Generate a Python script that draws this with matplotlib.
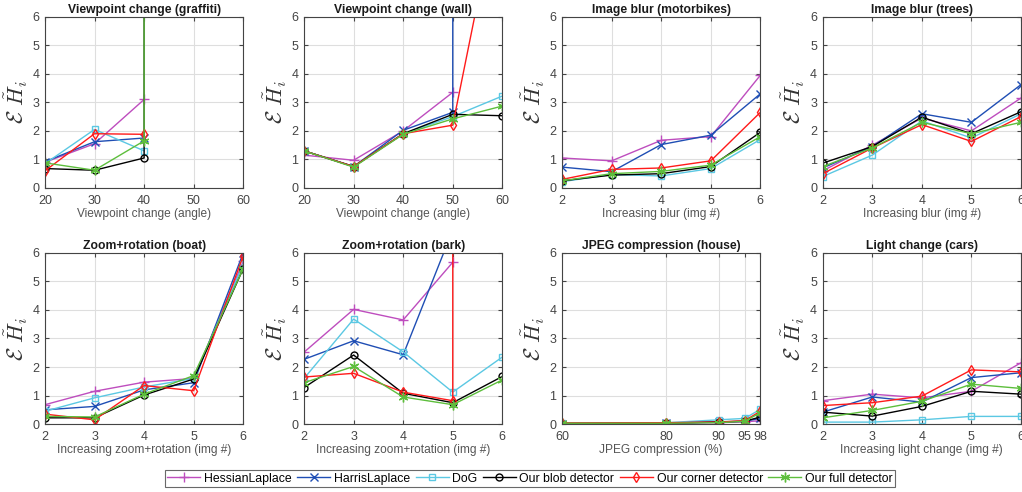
import numpy as np
import matplotlib
matplotlib.use("Agg")
import matplotlib.pyplot as plt

plt.rcParams['font.family'] = ['Liberation Sans', 'DejaVu Sans']
plt.rcParams['mathtext.fontset'] = 'cm'

NAN = np.nan
BIG = 1e4

methods = ["HessianLaplace", "HarrisLaplace", "DoG", "Our blob detector",
           "Our corner detector", "Our full detector"]
colors = ["#BE4DBE", "#1F4EB4", "#5BC8E3", "#000000", "#FF1A1A", "#5DBE3C"]
markers = ["+", "x", "s", "o", "d", (6, 2, 0)]
msizes = [7, 6, 4.5, 5, 5, 7]

titles = ["Viewpoint change (graffiti)", "Viewpoint change (wall)",
          "Image blur (motorbikes)", "Image blur (trees)",
          "Zoom+rotation (boat)", "Zoom+rotation (bark)",
          "JPEG compression (house)", "Light change (cars)"]
xlabels = ["Viewpoint change (angle)", "Viewpoint change (angle)",
           "Increasing blur (img #)", "Increasing blur (img #)",
           "Increasing zoom+rotation (img #)", "Increasing zoom+rotation (img #)",
           "JPEG compression (%)", "Increasing light change (img #)"]

x_view = [20, 30, 40, 50, 60]
x_img = [2, 3, 4, 5, 6]
x_jpeg = [60, 80, 90, 95, 98]
xs = [x_view, x_view, x_img, x_img, x_img, x_img, x_jpeg, x_img]

# order: Hessian, Harris, DoG, blob, corner, full
graffiti = [
    [0.90, 1.55, 3.10, NAN, NAN],
    [0.92, 1.62, 1.75, NAN, NAN],
    [0.85, 2.05, 1.30, NAN, NAN],
    [0.68, 0.62, 1.05, BIG, NAN],
    [0.60, 1.90, 1.88, NAN, NAN],
    [0.88, 0.62, 1.65, BIG, NAN],
]
wall = [
    [1.15, 0.97, 2.00, 3.35, NAN],
    [1.30, 0.75, 2.02, 2.65, BIG],
    [1.30, 0.75, 1.90, 2.50, 3.22],
    [1.30, 0.75, 1.90, 2.58, 2.53],
    [1.30, 0.75, 1.90, 2.20, 10.8],
    [1.30, 0.73, 1.88, 2.42, 2.87],
]
motorbikes = [
    [1.05, 0.95, 1.67, 1.80, 3.95],
    [0.73, 0.57, 1.52, 1.85, 3.30],
    [0.22, 0.47, 0.42, 0.68, 1.70],
    [0.25, 0.45, 0.50, 0.75, 1.95],
    [0.30, 0.65, 0.70, 0.95, 2.65],
    [0.25, 0.50, 0.58, 0.80, 1.80],
]
trees = [
    [0.60, 1.50, 2.45, 2.00, 3.15],
    [0.70, 1.45, 2.60, 2.30, 3.62],
    [0.40, 1.15, 2.35, 1.75, 2.60],
    [0.87, 1.45, 2.48, 1.90, 2.67],
    [0.50, 1.40, 2.22, 1.63, 2.50],
    [0.75, 1.40, 2.30, 1.90, 2.30],
]
boat = [
    [0.68, 1.15, 1.47, 1.60, 5.70],
    [0.50, 0.62, 1.20, 1.45, 6.00],
    [0.45, 0.92, 1.30, 1.60, 5.60],
    [0.22, 0.22, 1.02, 1.58, 5.45],
    [0.35, 0.15, 1.35, 1.17, 5.90],
    [0.27, 0.25, 1.05, 1.70, 5.45],
]
bark = [
    [2.52, 4.02, 3.65, 5.67, NAN],
    [2.27, 2.92, 2.43, 6.80, NAN],
    [1.60, 3.68, 2.53, 1.12, 2.35],
    [1.28, 2.42, 1.08, 0.75, 1.67],
    [1.65, 1.78, 1.12, 0.82, BIG],
    [1.45, 2.02, 0.95, 0.68, 1.55],
]
house = [
    [0.02, 0.03, 0.05, 0.08, 0.12],
    [0.02, 0.03, 0.07, 0.10, 0.20],
    [0.03, 0.05, 0.15, 0.20, 0.52],
    [0.02, 0.03, 0.08, 0.10, 0.25],
    [0.04, 0.05, 0.07, 0.12, 0.45],
    [0.03, 0.03, 0.05, 0.10, 0.40],
]
cars = [
    [0.82, 1.05, 0.92, 1.15, 2.15],
    [0.42, 0.95, 0.77, 1.63, 1.80],
    [0.07, 0.07, 0.15, 0.27, 0.27],
    [0.42, 0.28, 0.62, 1.15, 1.05],
    [0.65, 0.75, 0.98, 1.90, 1.83],
    [0.22, 0.48, 0.80, 1.40, 1.25],
]
datasets = [graffiti, wall, motorbikes, trees, boat, bark, house, cars]

fig = plt.figure(figsize=(10.22, 4.92), dpi=100)
lefts = [0.044, 0.2975, 0.550, 0.805]
bottoms = [0.618, 0.138]
w, h = 0.194, 0.348

handles = []
for i in range(8):
    r, c = divmod(i, 4)
    ax = fig.add_axes([lefts[c], bottoms[r], w, h])
    x = xs[i]
    for k in range(6):
        ln, = ax.plot(x, datasets[i][k], color=colors[k], marker=markers[k],
                      markersize=msizes[k],
                      markerfacecolor='none', markeredgewidth=1.0,
                      linewidth=1.0, label=methods[k])
        if i == 0:
            handles.append(ln)
    ax.set_xlim(x[0], x[-1])
    ax.set_ylim(0, 6)
    ax.set_xticks(x)
    ax.set_yticks(range(7))
    ax.grid(True, color='#DEDEDE', linewidth=0.8)
    ax.set_axisbelow(True)
    ax.set_title(titles[i], fontsize=8.7, fontweight='bold', color='#1A1A1A', pad=3)
    ax.set_xlabel(xlabels[i], fontsize=8.6, color='#555555', labelpad=1)
    ax.set_ylabel(r'$\mathcal{E}\ \tilde{H}_i$', fontsize=16, color='#333333', labelpad=2)
    ax.tick_params(direction='in', length=3, labelsize=9, colors='#444444',
                   top=True, right=True)
    ax.tick_params(axis='x', pad=5)
    ax.tick_params(axis='y', pad=4)
    for s in ax.spines.values():
        s.set_color('#444444')
        s.set_linewidth(0.8)

leg = fig.legend(handles=handles, loc='lower center', ncol=6,
                 bbox_to_anchor=(0.5186, 0.010), fontsize=8.8, frameon=True,
                 fancybox=False, edgecolor='#444444', handlelength=2.7,
                 handletextpad=0.3, columnspacing=0.45, borderpad=0.2,
                 borderaxespad=0.0)
leg.get_frame().set_linewidth(0.8)

fig.savefig("out.png", dpi=100)
